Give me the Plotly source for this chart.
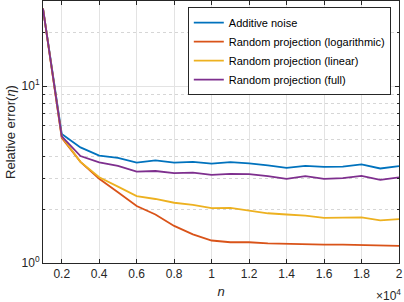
import plotly.graph_objects as go

n = [1000, 2000, 3000, 4000, 5000, 6000, 7000, 8000, 9000, 10000,
     11000, 12000, 13000, 14000, 15000, 16000, 17000, 18000, 19000, 20000]

additive_noise = [27.4, 5.36, 4.50, 4.04, 3.93, 3.69, 3.80, 3.69, 3.73, 3.64,
                  3.72, 3.66, 3.56, 3.45, 3.54, 3.49, 3.50, 3.61, 3.42, 3.53]
rp_logarithmic = [27.4, 5.10, 3.73, 2.99, 2.51, 2.10, 1.88, 1.62, 1.45, 1.34,
                  1.31, 1.31, 1.29, 1.28, 1.28, 1.27, 1.27, 1.26, 1.26, 1.25]
rp_linear = [27.4, 5.17, 3.73, 3.05, 2.70, 2.39, 2.30, 2.19, 2.13, 2.04,
             2.05, 1.97, 1.91, 1.88, 1.85, 1.80, 1.80, 1.81, 1.74, 1.77]
rp_full = [27.4, 5.20, 4.02, 3.70, 3.54, 3.28, 3.31, 3.22, 3.24, 3.15,
           3.19, 3.18, 3.10, 2.99, 3.10, 2.99, 3.02, 3.11, 2.95, 3.05]

series_names = ["Additive noise", "Random projection (logarithmic)",
                "Random projection (linear)", "Random projection (full)"]
series_values = [additive_noise, rp_logarithmic, rp_linear, rp_full]
colors = ["#0072BD", "#D95319", "#EDB120", "#7E2F8E"]

x_tickvals = [2000, 4000, 6000, 8000, 10000, 12000, 14000, 16000, 18000, 20000]
x_ticktext = ["0.2", "0.4", "0.6", "0.8", "1", "1.2", "1.4", "1.6", "1.8", "2"]
y_tickvals = [1, 10]
y_ticktext = ["10<sup>0</sup>", "10<sup>1</sup>"]
y_minor = [2, 3, 4, 5, 6, 7, 8, 9, 20, 30]

FONT = "Liberation Sans, Arial, sans-serif"
AX = "#262626"

fig = go.Figure()
for name, vals, c in zip(series_names, series_values, colors):
    fig.add_trace(go.Scatter(x=n, y=vals, mode="lines", name=name,
                             line=dict(color=c, width=1.8)))

fig.update_layout(
    width=404, height=302, autosize=False,
    margin=dict(l=43, r=5, t=1, b=39),
    plot_bgcolor="white", paper_bgcolor="white",
    font=dict(family=FONT, size=12, color=AX),
    showlegend=True,
    legend=dict(x=0.977, y=0.977, xanchor="right", yanchor="top",
                bgcolor="white", bordercolor=AX, borderwidth=1,
                font=dict(size=11, color="black"),
                tracegroupgap=0, itemwidth=30),
)

fig.update_xaxes(
    range=[1000, 20000], tickvals=x_tickvals, ticktext=x_ticktext,
    ticks="inside", ticklen=4, tickcolor=AX, showline=True, linecolor=AX,
    linewidth=1, mirror="ticks", showgrid=True, gridcolor="#e3e3e3",
    gridwidth=1, zeroline=False, tickfont=dict(size=12, color=AX),
    title=dict(text="<i>n</i>", font=dict(size=13, color=AX), standoff=6),
)
fig.update_yaxes(
    type="log", range=[0, 1.4805], tickvals=y_tickvals, ticktext=y_ticktext,
    ticks="inside", ticklen=4, tickcolor=AX, showline=True, linecolor=AX,
    linewidth=1, mirror="ticks", showgrid=True, gridcolor="#e3e3e3",
    gridwidth=1, zeroline=False, tickfont=dict(size=12, color=AX),
    minor=dict(tickvals=y_minor, ticks="inside", ticklen=2, tickcolor=AX,
               showgrid=True, gridcolor="#d6d6d6", griddash="dot", gridwidth=1),
    title=dict(text="Relative error(<i>η</i>)", font=dict(size=13, color=AX),
               standoff=3),
)

fig.add_annotation(text="×10<sup>4</sup>", xref="paper", yref="paper",
                   x=1.01, y=-0.085, xanchor="right", yanchor="top",
                   showarrow=False, font=dict(size=12, color=AX, family=FONT))

fig.write_html("out.html", config={"displayModeBar": False},
               post_script="document.body.style.margin='0';document.body.style.overflow='hidden';")
